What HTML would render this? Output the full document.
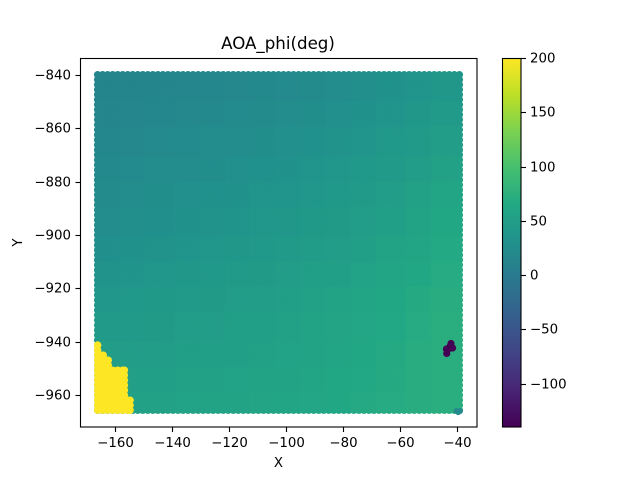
<!DOCTYPE html>
<html>
<head>
<meta charset="utf-8">
<title>AOA_phi(deg)</title>
<style>
html,body{margin:0;padding:0;background:#fff}
svg{display:block}
text{font-family:"DejaVu Sans","Liberation Sans",sans-serif;fill:#000}
</style>
</head>
<body>
<svg id="chart" xmlns="http://www.w3.org/2000/svg" width="640" height="480" viewBox="0 0 640 480">
  <defs>
    <linearGradient id="viridis-gradient" x1="0" y1="1" x2="0" y2="0"></linearGradient>
    <clipPath id="axes-clip"><rect x="80" y="58" width="397" height="369"></rect></clipPath>
  </defs>
  <rect x="0" y="0" width="640" height="480" fill="#fff"></rect>
  <g id="points" clip-path="url(#axes-clip)"></g>
  <rect x="80.5" y="58.5" width="396.5" height="368.5" fill="none" stroke="#000" stroke-width="1.1"></rect>
  <g id="x-axis"></g>
  <g id="y-axis"></g>
  <text x="278" y="49" font-size="16.67" text-anchor="middle">AOA_phi(deg)</text>
  <text x="278.5" y="467" font-size="13.33" text-anchor="middle">X</text>
  <text transform="translate(22,242.5) rotate(-90)" font-size="13.33" text-anchor="middle">Y</text>
  <rect x="502" y="58" width="19" height="369" fill="url(#viridis-gradient)"></rect>
  <rect x="502.5" y="58.5" width="18.5" height="368.5" fill="none" stroke="#000" stroke-width="1.1"></rect>
  <g id="colorbar-axis"></g>
</svg>
<script>
// Axis tick labels
const xTicks = [-160, -140, -120, -100, -80, -60, -40];
const yTicks = [-840, -860, -880, -900, -920, -940, -960];
const colorbarTicks = [200, 150, 100, 50, 0, -50, -100];

// Colour range
const colorMin = -140;
const colorMax = 200;
const viridisStops = ['#440154','#482475','#414487','#355f8d','#2a788e','#21918c','#22a884','#44bf70','#7ad151','#bddf26','#fde725'];

// Sampling grid of the measurement points
const gridXStart = -166.1;
const gridXStep = 1.763;
const gridXCount = 73;
const gridYStart = -839.9;
const gridYStep = 1.8775;
const gridYCount = 68;

// Region centres for the phi readings below
const regionX = [-162, -153, -144, -135, -126, -117, -108, -99, -90, -81, -72, -63, -54, -44];
const regionY = [-845, -855, -865, -875, -885, -895, -905, -915, -925, -935, -945, -955, -965];

// Phi readings (deg), rows follow regionY, columns follow regionX
const phiRow0  = [14,14,15,16,17,18,19,20,22,24,27,31,35,39];
const phiRow1  = [15,16,17,18,19,21,22,24,26,28,31,35,39,44];
const phiRow2  = [17,18,20,21,23,24,26,28,30,33,36,40,44,49];
const phiRow3  = [19,21,23,25,26,28,30,32,34,37,40,44,48,54];
const phiRow4  = [22,24,26,28,30,32,34,36,38,41,44,48,53,59];
const phiRow5  = [25,27,29,31,33,35,37,39,42,45,48,52,57,62];
const phiRow6  = [29,31,33,35,37,39,41,43,46,48,52,56,60,65];
const phiRow7  = [33,35,37,39,41,43,45,47,50,52,55,59,63,68];
const phiRow8  = [38,40,42,43,45,47,49,51,53,56,59,63,67,71];
const phiRow9  = [43,44,45,47,48,50,52,53,56,58,61,64,68,72];
const phiRow10 = [47,48,49,50,51,52,54,55,57,60,63,66,70,73];
const phiRow11 = [50,51,52,53,54,55,56,57,59,62,64,67,70,73];
const phiRow12 = [52,53,54,55,56,57,58,59,61,63,66,68,71,73];
const phiRows = [phiRow0,phiRow1,phiRow2,phiRow3,phiRow4,phiRow5,phiRow6,phiRow7,phiRow8,phiRow9,phiRow10,phiRow11,phiRow12];

// Saturated lower-left zone: below each band top, points up to the X limit read 200
const saturatedBandTop = [-941.2, -944, -946, -949.5, -961.5];
const saturatedBandXMax = [-166.1, -164.1, -162.35, -156.7, -154.7];
const saturatedValue = 200;

// Outlier points
const outlierX = [-42.1, -41.55, -43.7, -43.6, -42.46, -42.8];
const outlierY = [-940.67, -942.36, -942.74, -944.42, -941.8, -942.6];
const outlierPhi = [-140, -140, -140, -140, -140, -140];

// Bottom-right corner points
const cornerX = [-40.18, -38.95, -39.58];
const cornerY = [-966, -966, -966.4];
const cornerPhi = [20, 20, 20];

const NS = 'http://www.w3.org/2000/svg';
const xScale = v => 457 + (v + 40) * 2.85;
const yScale = v => 75 + (-840 - v) * 2.667;
const colorbarScale = v => 58 + (colorMax - v) * (369 / (colorMax - colorMin));
const pointRadius = 3.7;

function hexToRgb(h) {
  return [parseInt(h.slice(1, 3), 16), parseInt(h.slice(3, 5), 16), parseInt(h.slice(5, 7), 16)];
}
function colorFor(v) {
  let t = (v - colorMin) / (colorMax - colorMin);
  t = Math.max(0, Math.min(1, t)) * (viridisStops.length - 1);
  const i = Math.min(Math.floor(t), viridisStops.length - 2);
  const a = hexToRgb(viridisStops[i]);
  const b = hexToRgb(viridisStops[i + 1]);
  const f = t - i;
  return 'rgb(' + a.map((c, k) => Math.round(c + (b[k] - c) * f)).join(',') + ')';
}
function nearestIndex(list, v) {
  let best = 0;
  list.forEach((c, i) => { if (Math.abs(c - v) < Math.abs(list[best] - v)) best = i; });
  return best;
}
function saturatedLimit(y) {
  let limit = null;
  saturatedBandTop.forEach((top, i) => { if (y <= top) limit = saturatedBandXMax[i]; });
  return limit;
}

const pointsGroup = document.getElementById('points');
function addPoint(x, y, v, name, radius) {
  const c = document.createElementNS(NS, 'circle');
  c.setAttribute('cx', xScale(x).toFixed(2));
  c.setAttribute('cy', yScale(y).toFixed(2));
  c.setAttribute('r', radius);
  c.setAttribute('fill', colorFor(v));
  
  
  pointsGroup.appendChild(c);
}

for (let r = 0; r < gridYCount; r++) {
  const y = gridYStart - r * gridYStep;
  for (let c = 0; c < gridXCount; c++) {
    const x = gridXStart + c * gridXStep;
    addPoint(x, y, phiRows[nearestIndex(regionY, y)][nearestIndex(regionX, x)], 'data-point', pointRadius);
  }
}
for (let r = 0; r < gridYCount; r++) {
  const y = gridYStart - r * gridYStep;
  const limit = saturatedLimit(y);
  if (limit === null) continue;
  for (let c = 0; c < gridXCount; c++) {
    const x = gridXStart + c * gridXStep;
    if (x <= limit) addPoint(x, y, saturatedValue, 'saturated-point', pointRadius);
  }
  addPoint(limit, y, saturatedValue, 'saturated-point', pointRadius);
}
outlierX.forEach((x, i) => addPoint(x, outlierY[i], outlierPhi[i], 'outlier-point', 3.6));
cornerX.forEach((x, i) => addPoint(x, cornerY[i], cornerPhi[i], 'corner-point', 3));

function fmt(v) { return v < 0 ? '\u2212' + Math.abs(v) : String(v); }

function addTick(parent, x1, y1, x2, y2, name) {
  const l = document.createElementNS(NS, 'line');
  l.setAttribute('x1', x1);
  l.setAttribute('y1', y1);
  l.setAttribute('x2', x2);
  l.setAttribute('y2', y2);
  l.setAttribute('stroke', '#000');
  l.setAttribute('stroke-width', '1.1');
  
  
  parent.appendChild(l);
}
function addLabel(parent, x, y, anchor, str, name) {
  const t = document.createElementNS(NS, 'text');
  t.setAttribute('x', x);
  t.setAttribute('y', y);
  t.setAttribute('font-size', '13.33');
  t.setAttribute('text-anchor', anchor);
  t.textContent = str;
  
  
  parent.appendChild(t);
}

const xAxis = document.getElementById('x-axis');
xTicks.forEach(v => {
  const px = Math.round(xScale(v)) + 0.5;
  addTick(xAxis, px, 427, px, 432, 'x-tick');
  addLabel(xAxis, px, 447, 'middle', fmt(v), 'x-tick-label');
});
const yAxis = document.getElementById('y-axis');
yTicks.forEach(v => {
  const py = Math.round(yScale(v)) + 0.5;
  addTick(yAxis, 75.5, py, 80.5, py, 'y-tick');
  addLabel(yAxis, 71, py + 4, 'end', fmt(v), 'y-tick-label');
});
const cbAxis = document.getElementById('colorbar-axis');
colorbarTicks.forEach(v => {
  const py = Math.round(colorbarScale(v)) + 0.5;
  addTick(cbAxis, 521, py, 526, py, 'colorbar-tick');
  addLabel(cbAxis, 530, py + 4, 'start', fmt(v), 'colorbar-tick-label');
});

const grad = document.getElementById('viridis-gradient');
viridisStops.forEach((col, i) => {
  const s = document.createElementNS(NS, 'stop');
  s.setAttribute('offset', (i / (viridisStops.length - 1)).toFixed(3));
  s.setAttribute('stop-color', col);
  grad.appendChild(s);
});
</script>
</body>
</html>
